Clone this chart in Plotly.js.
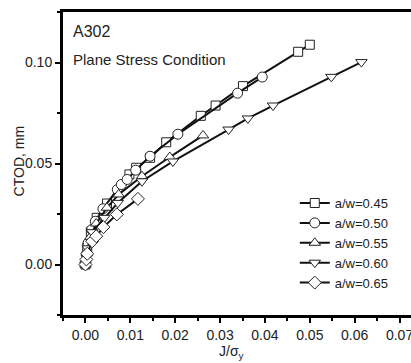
<!DOCTYPE html>
<html>
<head>
<meta charset="utf-8">
<script src="https://cdn.plot.ly/plotly-3.0.1.min.js"></script>
<style>
html,body{margin:0;padding:0;overflow:hidden;background:#fff;}
#chart{width:430px;height:363px;}
</style>
</head>
<body>
<div id="chart"></div>
<script>
// a/w = 0.45 (squares)
const x45 = [0, 0.0004, 0.0012, 0.0025, 0.0048, 0.0098, 0.0113, 0.0144, 0.0180, 0.0257, 0.0290, 0.0351, 0.0474, 0.0500];
const y45 = [0, 0.0083, 0.0160, 0.0231, 0.0302, 0.0446, 0.0479, 0.0528, 0.0605, 0.0736, 0.0787, 0.0883, 0.1053, 0.1088];
// a/w = 0.50 (circles)
const x50 = [0, 0.0002, 0.0006, 0.0014, 0.0022, 0.0039, 0.0071, 0.0080, 0.0093, 0.0112, 0.0144, 0.0206, 0.0339, 0.0394];
const y50 = [0, 0.0050, 0.0107, 0.0173, 0.0214, 0.0276, 0.0371, 0.0396, 0.0421, 0.0467, 0.0536, 0.0645, 0.0848, 0.0928];
// a/w = 0.55 (triangles up)
const x55 = [0, 0.0003, 0.0011, 0.0024, 0.0048, 0.0074, 0.0126, 0.0188, 0.0262];
const y55 = [0, 0.0055, 0.0137, 0.0203, 0.0281, 0.0347, 0.0437, 0.0532, 0.0639];
// a/w = 0.60 (triangles down)
const x60 = [0, 0.0005, 0.0015, 0.0042, 0.0072, 0.0126, 0.0195, 0.0319, 0.0362, 0.0418, 0.0548, 0.0615];
const y60 = [0, 0.0080, 0.0160, 0.0231, 0.0305, 0.0412, 0.0510, 0.0668, 0.0723, 0.0787, 0.0929, 0.1002];
// a/w = 0.65 (diamonds)
const x65 = [0, 0.0002, 0.0004, 0.0015, 0.0024, 0.0040, 0.0070, 0.0117];
const y65 = [0, 0.0025, 0.0053, 0.0115, 0.0140, 0.0185, 0.0248, 0.0325];

const names = ['a/w=0.45', 'a/w=0.50', 'a/w=0.55', 'a/w=0.60', 'a/w=0.65'];
const symbols = ['square', 'circle', 'triangle-up', 'triangle-down', 'diamond'];
const sizes = [9, 10, 10, 10, 10];
const xs = [x45, x50, x55, x60, x65];
const ys = [y45, y50, y55, y60, y65];

const traces = xs.map((x, i) => ({
  x: x, y: ys[i], name: names[i], type: 'scatter', mode: 'lines+markers',
  line: {color: '#111', width: 2},
  marker: {symbol: symbols[i], size: sizes[i], color: '#fff', line: {color: '#222', width: 1}},
  cliponaxis: false
}));

const font = {family: 'Arial, Liberation Sans, sans-serif', color: '#222'};
const layout = {
  width: 430, height: 363,
  margin: {l: 63, r: 8, t: 12, b: 48},
  paper_bgcolor: '#fff', plot_bgcolor: '#fff',
  showlegend: true,
  font: Object.assign({size: 14}, font),
  xaxis: {
    range: [-0.005, 0.075], dtick: 0.01, tick0: 0, tickformat: '.2f',
    showgrid: false, zeroline: false,
    showline: true, linewidth: 3, linecolor: '#000', mirror: true,
    ticks: 'outside', ticklen: 5, tickwidth: 2, tickcolor: '#000',
    minor: {dtick: 0.005, tick0: 0, ticks: 'outside', ticklen: 3, tickwidth: 2, tickcolor: '#000', showgrid: false},
    tickfont: {size: 14, family: font.family, color: '#222'}
  },
  yaxis: {
    range: [-0.025, 0.125], dtick: 0.05, tick0: 0, tickformat: '.2f',
    showgrid: false, zeroline: false,
    showline: true, linewidth: 3, linecolor: '#000', mirror: true,
    ticks: 'outside', ticklen: 5, tickwidth: 2, tickcolor: '#000',
    minor: {dtick: 0.025, tick0: 0, ticks: 'outside', ticklen: 3, tickwidth: 2, tickcolor: '#000', showgrid: false},
    tickfont: {size: 14, family: font.family, color: '#222'}
  },
  legend: {
    x: 0.6456, y: 0.419, xanchor: 'left', yanchor: 'top',
    bgcolor: 'rgba(0,0,0,0)', borderwidth: 0,
    font: {size: 13, family: font.family, color: '#222'},
    tracegroupgap: 0, itemwidth: 30
  },
  annotations: [
    {text: 'A302', xref: 'paper', yref: 'paper', x: 0.0224, y: 0.936, xanchor: 'left', yanchor: 'middle', showarrow: false, font: {size: 16, family: font.family, color: '#222'}},
    {text: 'Plane Stress Condition', xref: 'paper', yref: 'paper', x: 0.0224, y: 0.842, xanchor: 'left', yanchor: 'middle', showarrow: false, font: {size: 15, family: font.family, color: '#222'}},
    {text: 'CTOD, mm', xref: 'paper', yref: 'paper', x: -0.12, y: 0.51, xanchor: 'center', yanchor: 'middle', textangle: -90, showarrow: false, font: {size: 14, family: font.family, color: '#222'}},
    {text: 'J/σ<sub>y</sub>', xref: 'paper', yref: 'paper', x: 0.468, y: -0.085, xanchor: 'center', yanchor: 'top', showarrow: false, font: {size: 14, family: font.family, color: '#222'}}
  ]
};

Plotly.newPlot('chart', traces, layout, {staticPlot: true, displayModeBar: false});
</script>
</body>
</html>
